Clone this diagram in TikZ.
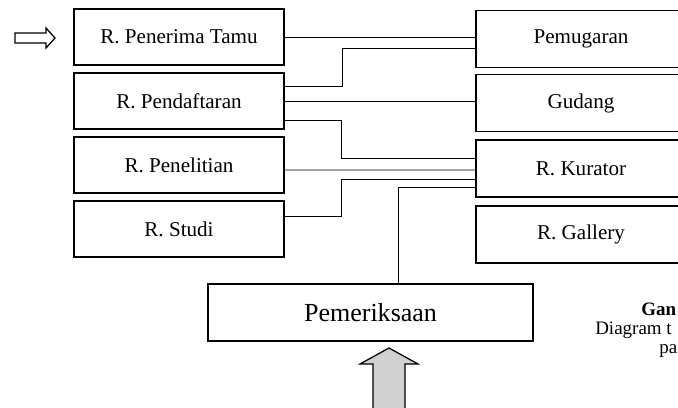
\documentclass[tikz,border=0pt]{standalone}
\usepackage{fontspec}
\setmainfont{Liberation Serif}
\usetikzlibrary{calc}
\tikzset{
    Room/.style = {draw,line width=0.8pt,minimum width=5.25cm,minimum height=1.4cm,
        inner sep=0pt,font=\fontsize{15}{18}\selectfont},
    Link/.style = {line width=0.7pt},
    Caption/.style = {anchor=base west,inner sep=0pt,font=\fontsize{13.5}{16}\selectfont}
}
\begin{document}
\begin{tikzpicture}[x=0.025cm,y=-0.025cm]
        \clip (0,0) rectangle (678,408);
        % left rooms
        \foreach \n/\y/\t in {tamu/37/R. Penerima Tamu,daftar/101/R. Pendaftaran,teliti/165/R. Penelitian,studi/229/R. Studi}
            {\node[Room] (\n) at (179,\y) {\t};}
        % right rooms
        \foreach \n/\y/\t in {pugar/39/Pemugaran,gudang/103/Gudang,kurator/168.5/R. Kurator,gallery/234.5/R. Gallery}
            {\node[Room,minimum height=1.425cm] (\n) at (581,\y) {\t};}
        \node[Room,minimum width=8.125cm,minimum height=1.425cm,
            font=\fontsize{18.5}{22}\selectfont] (periksa) at (370.5,312.5) {Pemeriksaan};
        % links
        \draw[Link] (tamu.east) -- (tamu.east -| pugar.west);
        \draw[Link] ($(daftar.east)+(0,-15)$) -- ++(58,0) |- ($(pugar.west)+(0,9)$);
        \draw[Link] (daftar.east) -- (daftar.east -| gudang.west);
        \draw[Link] ($(daftar.east)+(0,19)$) -- ++(57,0) |- ($(kurator.west)+(0,-10.5)$);
        \draw[Link] ($(teliti.east)+(0,5)$) -- ($(kurator.west)+(0,1.5)$);
        \draw[Link] ($(studi.east)+(0,-13)$) -- ++(57,0) |- ($(kurator.west)+(0,10.5)$);
        \draw[Link] ($(periksa.north)+(27.5,0)$) |- ($(kurator.west)+(0,18.5)$);
        % entrance arrows
        \draw[line width=0.9pt] (15,33) -- (46,33) -- (46,28) -- (55,38) -- (46,48) -- (46,43) -- (15,43) -- cycle;
        \draw[line width=0.9pt,fill=black!18] (373,412) -- (373,364) -- (360,364) -- (389,348)
            -- (418,364) -- (405,364) -- (405,412);
        % caption
        \node[Caption,font=\fontsize{13.5}{16}\selectfont\bfseries] (gbr) at (641,315) {Gan};
        \node[Caption] (ket) at (595,334) {Diagram t};
        \node[Caption] (pa) at (659,353) {pa};
\end{tikzpicture}
\end{document}
